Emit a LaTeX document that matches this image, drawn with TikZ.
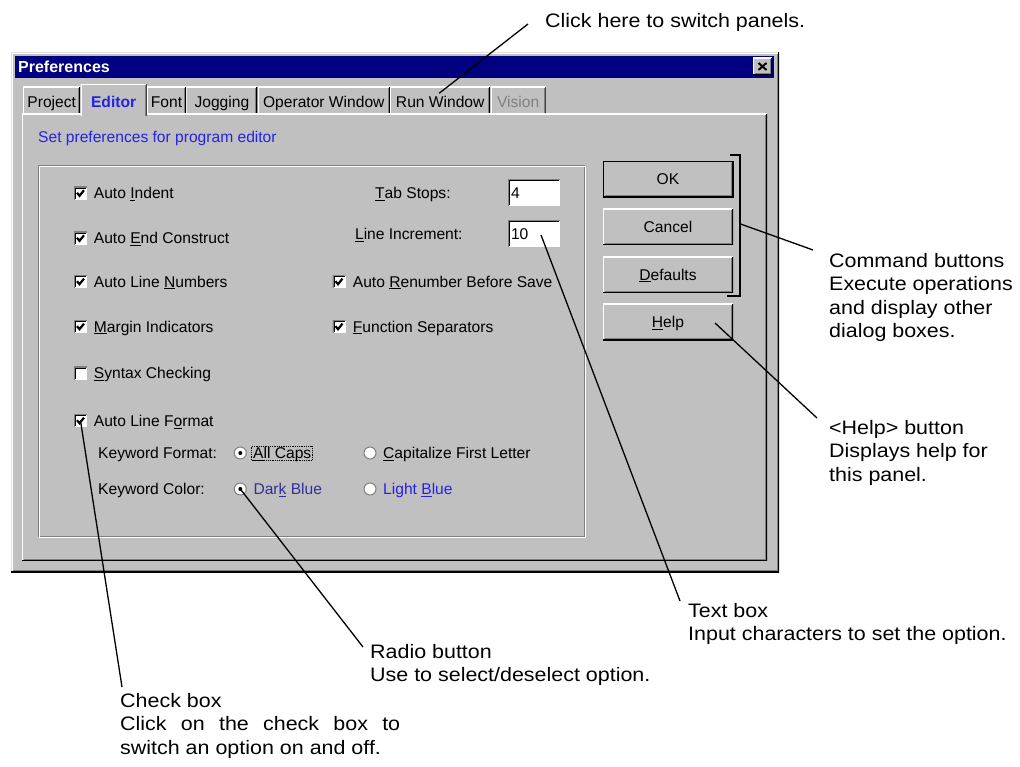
\documentclass[tikz,border=0pt]{standalone}
\usepackage{fontspec}
\setmainfont{Liberation Sans}
\newfontfamily\notefamily[FakeStretch=1.1]{Liberation Sans}
\usetikzlibrary{positioning,calc}
\definecolor{cFace}{HTML}{C0C0C0}
\definecolor{cShadow}{HTML}{808080}
\definecolor{cLight}{HTML}{DFDFDF}
\definecolor{cTitle}{HTML}{000080}
\definecolor{cLink}{HTML}{2323E6}
\definecolor{cDeep}{HTML}{30309C}
\newcommand{\pbb}{path picture bounding box}
\newcommand{\acc}[1]{\underline{#1}}
\newcommand{\dlgfont}{\fontsize{15.6}{18}\selectfont}
\newcommand{\notefont}{\notefamily\fontsize{19.5}{23.5}\selectfont}
\newcommand{\sunkdraw}{%
  \draw[cShadow,line width=2pt] (\pbb.south west) -- (\pbb.north west) -- (\pbb.north east);
  \draw[black,line width=1pt] ([shift={(1.5pt,1pt)}]\pbb.south west) -- ([shift={(1.5pt,-1.5pt)}]\pbb.north west) -- ([shift={(-1pt,-1.5pt)}]\pbb.north east);}
\tikzset{
  raised/.style={fill=cFace, path picture={
    \draw[white,line width=2pt] (\pbb.south west) -- (\pbb.north west) -- (\pbb.north east);
    \draw[black,line width=2pt] (\pbb.south west) -- (\pbb.south east) -- (\pbb.north east);
    \draw[cShadow,line width=1pt] ([shift={(1.5pt,1.5pt)}]\pbb.south west) -- ([shift={(-1.5pt,1.5pt)}]\pbb.south east) -- ([shift={(-1.5pt,-1.5pt)}]\pbb.north east);}},
  winframe/.style={fill=cFace, path picture={
    \draw[cLight,line width=2pt] (\pbb.south west) -- (\pbb.north west) -- (\pbb.north east);
    \draw[white,line width=1pt] ([shift={(1.5pt,1.5pt)}]\pbb.south west) -- ([shift={(1.5pt,-1.5pt)}]\pbb.north west) -- ([shift={(-1.5pt,-1.5pt)}]\pbb.north east);
    \draw[black,line width=2pt] (\pbb.south west) -- (\pbb.south east) -- (\pbb.north east);
    \draw[cShadow,line width=1pt] ([shift={(1.5pt,1.5pt)}]\pbb.south west) -- ([shift={(-1.5pt,1.5pt)}]\pbb.south east) -- ([shift={(-1.5pt,-1.5pt)}]\pbb.north east);}},
  panetab/.style={fill=cFace, font=\dlgfont, inner sep=0pt, minimum height=26.5pt, minimum width=#1,
    text height=14.5pt, text depth=0pt, path picture={
    \draw[white,line width=2pt] (\pbb.south west) -- (\pbb.north west) -- (\pbb.north east);
    \draw[black,line width=2pt] (\pbb.north east) -- (\pbb.south east);
    \draw[cShadow,line width=1pt] ([shift={(-1.5pt,-1pt)}]\pbb.north east) -- ([xshift=-1.5pt]\pbb.south east);}},
  panetabon/.style={panetab=#1, minimum height=32pt, font=\dlgfont\bfseries, text=cLink},
  chkbox/.style={fill=white, minimum size=13pt, inner sep=0pt, path picture={\sunkdraw}},
  chkon/.style={chkbox, path picture={\sunkdraw
    \draw[black,line width=2.2pt] ([shift={(-3.5pt,0.5pt)}]\pbb.center) -- ([shift={(-1pt,-2.5pt)}]\pbb.center) -- ([shift={(3.5pt,3pt)}]\pbb.center);}},
  radio/.style={circle, fill=white, draw=cShadow, line width=1pt, minimum size=12pt, inner sep=0pt},
  radioon/.style={radio, path picture={\fill[black] (\pbb.center) circle (2pt);}},
  btn/.style={raised, font=\dlgfont, minimum width=130pt, minimum height=36pt, inner sep=0pt,
    text height=11pt, text depth=0pt},
  btndef/.style={btn, draw=black, line width=1pt},
  tbox/.style={fill=white, font=\dlgfont, minimum width=52pt, minimum height=27pt, text width=46pt,
    align=left, inner sep=2pt, text height=11pt, text depth=0pt, path picture={\sunkdraw}},
  dlg/.style={font=\dlgfont, inner sep=0pt, text height=11pt, text depth=0pt},
  note/.style={font=\notefont, inner sep=0pt, anchor=north west, align=left},
  lead/.style={black, line width=1.3pt}
}
\begin{document}
\begin{tikzpicture}[x=1pt, y=-1pt]
\useasboundingbox (0,0) rectangle (1020,767);
\node[winframe, anchor=north west, minimum width=768pt, minimum height=520pt] (win) at (11,52) {};
\node[anchor=north west, fill=cTitle, text=white, font=\fontsize{16}{18}\selectfont\bfseries,
  minimum width=759pt, minimum height=22pt, text width=753pt, inner xsep=3pt, inner ysep=0pt] (title) at (15,56) {Preferences};
\node[raised, minimum width=19pt, minimum height=17pt] (closebtn) at (762.5,66.5) {};
\draw[line width=2pt] ([shift={(-4pt,3.5pt)}]closebtn.center) -- ([shift={(4pt,-3.5pt)}]closebtn.center);
\draw[line width=2pt] ([shift={(-4pt,-3.5pt)}]closebtn.center) -- ([shift={(4pt,3.5pt)}]closebtn.center);

\node[raised, anchor=north west, minimum width=745pt, minimum height=447pt] (panel) at (22,113.5) {};
\node[panetab=57pt, anchor=west] (tproj) at (23,100.25) {Project};
\node[panetabon=66pt, right=0pt of tproj] (tedit) {Editor};
\node[panetab=39pt, right=0pt of tedit] (tfont) {Font};
\node[panetab=71pt, right=0pt of tfont] (tjog) {Jogging};
\node[panetab=132pt, right=0pt of tjog] (topw) {Operator Window};
\node[panetab=100pt, right=0pt of topw] (trunw) {Run Window};
\node[panetab=55pt, text=cShadow, right=0pt of trunw] (tvis) {Vision};

\node[dlg, text=cLink, anchor=west] (intro) at (38,137) {Set preferences for program editor};
\draw[cShadow] (38.5,165.5) rectangle (584.5,536.5);
\draw[white] (39.5,166.5) rectangle (585.5,537.5);

\node[chkon] (cbind) at (80.5,193.3) {};
\node[dlg, right=6.5pt of cbind] (lbind) {Auto \acc{I}ndent};
\node[chkon] (cbend) at (80.5,238.3) {};
\node[dlg, right=6.5pt of cbend] (lbend) {Auto \acc{E}nd Construct};
\node[chkon] (cbnum) at (80.5,281.7) {};
\node[dlg, right=6.5pt of cbnum] (lbnum) {Auto Line \acc{N}umbers};
\node[chkon] (cbmar) at (80.5,326.7) {};
\node[dlg, right=6.5pt of cbmar] (lbmar) {\acc{M}argin Indicators};
\node[chkbox] (cbsyn) at (80.5,373) {};
\node[dlg, right=6.5pt of cbsyn] (lbsyn) {\acc{S}yntax Checking};
\node[chkon] (cbfmt) at (80.5,420.7) {};
\node[dlg, right=6.5pt of cbfmt] (lbfmt) {Auto Line F\acc{o}rmat};

\node[tbox] (tb1) at (534,193) {4};
\node[dlg, left=57pt of tb1] (ltab) {\acc{T}ab Stops:};
\node[tbox] (tb2) at (534,234) {10};
\node[dlg, left=45pt of tb2] (linc) {\acc{L}ine Increment:};
\node[chkon] (cbren) at (339,281.7) {};
\node[dlg, right=7pt of cbren] (lbren) {Auto \acc{R}enumber Before Save};
\node[chkon] (cbsep) at (339,326.7) {};
\node[dlg, right=7pt of cbsep] (lbsep) {\acc{F}unction Separators};

\node[dlg, anchor=west] (kwf) at (98,453) {Keyword Format:};
\node[radioon] (rcaps) at (240.3,453) {};
\node[dlg, draw=black, densely dotted, line width=0.8pt, inner sep=1.5pt, right=4.5pt of rcaps] (lcaps) {\acc{A}ll Caps};
\node[radio] (rfirst) at (370,453) {};
\node[dlg, right=6.5pt of rfirst] (lfirst) {\acc{C}apitalize First Letter};
\node[dlg, anchor=west] (kwc) at (98,489) {Keyword Color:};
\node[radioon] (rdark) at (240.3,489) {};
\node[dlg, text=cDeep, right=6.5pt of rdark] (ldark) {Dar\acc{k} Blue};
\node[radio] (rlight) at (370,489) {};
\node[dlg, text=cLink, right=6.5pt of rlight] (llight) {Light \acc{B}lue};

\node[btndef] (ok) at (668,179.5) {OK};
\node[btn, below=10.5pt of ok] (cancel) {Cancel};
\node[btn, below=11.5pt of cancel] (dflt) {\acc{D}efaults};
\node[btn, below=11pt of dflt] (help) {\acc{H}elp};
\draw[line width=2pt] ([shift={(-4pt,5.5pt)}]ok.north east) -| ([shift={(6.5pt,-3pt)}]dflt.south east) -- ([shift={(-6pt,-3pt)}]dflt.south east);
\coordinate (brk) at ([shift={(6.5pt,3pt)}]cancel.east);

\node[note] (nswitch) at (545,13) {Click here to switch panels.};
\node[note] (ncmd) at (829,253) {Command buttons\\Execute operations\\and display other\\dialog boxes.};
\node[note] (nhelp) at (829,420) {<Help> button\\Displays help for\\this panel.};
\node[note] (ntext) at (688,603) {Text box\\Input characters to set the option.};
\node[note] (nradio) at (370,644) {Radio button\\Use to select/deselect option.};
\node[note] (ncheck) at (120,693) {Check box\\\makebox[280pt][s]{Click on the check box to}\\switch an option on and off.};

\draw[lead] ($(trunw.center)+(-1,-7)$) -- ($(nswitch.north west)+(-17,11)$);
\draw[lead] (brk) -- ($(ncmd.north west)+(-16,-3)$);
\draw[lead] ($(help.center)+(47,1)$) -- ($(nhelp.north west)+(-12,-2)$);
\draw[lead] ($(tb2.center)+(7,1)$) -- ($(ntext.north west)+(-8,-2)$);
\draw[lead] (rdark.center) -- ($(nradio.north west)+(-7,3)$);
\draw[lead] (cbfmt.center) -- ($(ncheck.north west)+(2,-6)$);
\end{tikzpicture}
\end{document}
